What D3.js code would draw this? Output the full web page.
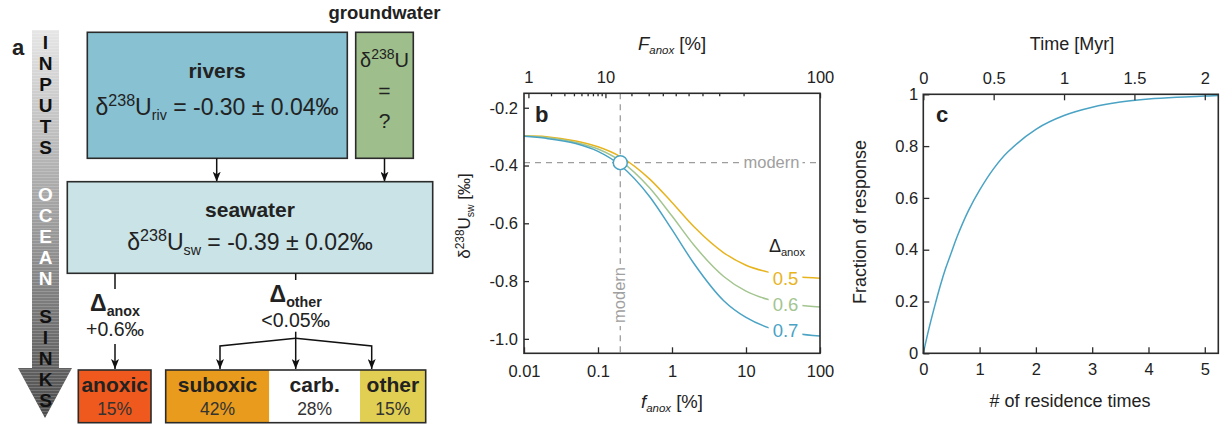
<!DOCTYPE html>
<html>
<head>
<meta charset="utf-8">
<script src="https://cdn.jsdelivr.net/npm/d3@7"></script>
<style>
  body { margin: 0; background: #fff; }
  svg { display: block; font-family: "Liberation Sans", Arial, sans-serif; }
</style>
</head>
<body>
<div id="chart"></div>
<script>
// ── panel a: budget numbers ─────────────────────────────────────
const rivD = '-0.30', rivErr = '0.04'
const swD = '-0.39', swErr = '0.02'
const dAnoxText = '+0.6‰', dOtherText = '<0.05‰'
const sinkNames = ['anoxic', 'suboxic', 'carb.', 'other']
const sinkShares = [15, 42, 28, 15]
const sinkColors = ['#f0591d', '#e89b1c', '#ffffff', '#e0cf52']

// ── panel b: seawater d238U vs anoxic area ──────────────────────
const fAnox = [0.01, 0.02, 0.05, 0.1, 0.2, 0.5, 1, 2, 5, 10, 20, 50, 100]
const deltaAnox = [0.5, 0.6, 0.7]
const swD05 = [-0.297, -0.30, -0.315, -0.335, -0.369, -0.447, -0.528, -0.613, -0.702, -0.745, -0.769, -0.785, -0.79]
const swD06 = [-0.298, -0.303, -0.32, -0.343, -0.384, -0.478, -0.575, -0.677, -0.784, -0.835, -0.864, -0.883, -0.89]
const swD07 = [-0.299, -0.306, -0.324, -0.351, -0.399, -0.508, -0.622, -0.741, -0.868, -0.926, -0.961, -0.982, -0.99]
const curveColors = ['#e7b41e', '#a3c58f', '#4aa3c4']
const modernF = 0.2, modernSw = -0.39, modernFanox = 15
const bXTicks = [0.01, 0.1, 1, 10, 100]
const bYTicks = [-1.0, -0.8, -0.6, -0.4, -0.2]
const bTopMajor = [1, 10, 100]
const bTopMinor = [2, 3, 4, 5, 6, 7, 8, 9, 20, 30, 40, 50, 60, 70, 80, 90]

// ── panel c: response vs residence times ────────────────────────
const resTimes = [0, 0.1, 0.2, 0.3, 0.4, 0.5, 0.6, 0.8, 1, 1.25, 1.5, 2, 2.5, 3, 3.5, 4, 4.5, 5, 5.24]
const response = [0, 0.095, 0.18, 0.26, 0.33, 0.39, 0.45, 0.55, 0.63, 0.713, 0.777, 0.865, 0.918, 0.95, 0.97, 0.982, 0.989, 0.993, 0.995]
const residenceMyr = 0.4
const cXTicks = [0, 1, 2, 3, 4, 5]
const cTopTicks = [0, 0.5, 1, 1.5, 2]
const cYTicks = [0, 0.2, 0.4, 0.6, 0.8, 1]

const INK = '#222'
const FRAME = '#2b2b2b'
const svg = d3.select('#chart').append('svg').attr('width', 1221).attr('height', 427)
const defs = svg.append('defs')

defs.append('marker').attr('id', 'ah')
  .attr('viewBox', '0 0 10 8').attr('refX', 10).attr('refY', 4)
  .attr('markerWidth', 10).attr('markerHeight', 8)
  .attr('markerUnits', 'userSpaceOnUse').attr('orient', 'auto')
  .append('path').attr('d', 'M0,0 L10,4 L0,8 L2.5,4 z').attr('fill', '#111')

const grad = defs.append('linearGradient').attr('id', 'flow')
  .attr('gradientUnits', 'userSpaceOnUse').attr('x1', 0).attr('y1', 30).attr('x2', 0).attr('y2', 418)
grad.append('stop').attr('offset', 0).attr('stop-color', '#e6e6e6')
grad.append('stop').attr('offset', 0.5).attr('stop-color', '#9c9c9c')
grad.append('stop').attr('offset', 1).attr('stop-color', '#4c4c4c')
const stripes = defs.append('pattern').attr('id', 'stripes')
  .attr('patternUnits', 'userSpaceOnUse').attr('width', 8).attr('height', 3)
stripes.append('rect').attr('width', 8).attr('height', 1).attr('fill', '#fff').attr('opacity', 0.18)

// text with sub/superscripts: parts = [{t, k:'sup'|'sub', i:italic, b:bold}]
function rich(g, x, y, parts, size, opts = {}) {
  const t = g.append('text').attr('x', x).attr('y', y)
    .attr('text-anchor', opts.anchor || 'middle')
    .attr('font-size', size).attr('fill', opts.fill || INK)
    .style('white-space', 'pre')
  if (opts.bold) t.attr('font-weight', 'bold')
  if (opts.transform) t.attr('transform', opts.transform)
  let shift = 0
  parts.forEach(p => {
    const part = typeof p === 'string' ? { t: p } : p
    const target = part.k === 'sup' ? -0.38 * size : part.k === 'sub' ? 0.22 * size : 0
    const ts = t.append('tspan').text(part.t).attr('dy', target - shift)
    if (part.k) ts.attr('font-size', size * (part.k === 'sup' ? 0.7 : 0.62))
    if (part.i) ts.attr('font-style', 'italic')
    if (part.b) ts.attr('font-weight', 'bold')
    shift = target
  })
  return t
}

function plainText(g, x, y, s, size, opts = {}) {
  return rich(g, x, y, [s], size, opts)
}

function whiteBehind(g, textSel, pad) {
  const bb = textSel.node().getBBox()
  g.insert('rect', () => textSel.node())
    .attr('x', bb.x - pad).attr('y', bb.y)
    .attr('width', bb.width + 2 * pad).attr('height', bb.height)
    .attr('fill', '#fff')
}

// ════════════════ panel a ════════════════
const ga = svg.append('g')
plainText(ga, 12, 55, 'a', 22, { anchor: 'start', bold: true })

// flow arrow
const arrowPath = 'M32,30 L59,30 L59,368 L72,368 L45,418 L18,368 L32,368 Z'
ga.append('path').attr('d', arrowPath).attr('fill', 'url(#flow)')
ga.append('path').attr('d', arrowPath).attr('fill', 'url(#stripes)')
const flowWords = [
  { w: 'INPUTS', top: 32.2, fill: '#111' },
  { w: 'OCEAN', top: 183.5, fill: '#fff' },
  { w: 'SINKS', top: 305.5, fill: '#111' },
]
flowWords.forEach(fw => {
  ga.append('text').attr('x', 45.5).attr('y', fw.top)
    .style('writing-mode', 'vertical-rl').style('text-orientation', 'upright')
    .attr('font-size', 19).attr('font-weight', 'bold').attr('fill', fw.fill)
    .text(fw.w)
})

const box = (x0, y0, x1, y1, fill) => ga.append('rect')
  .attr('x', x0).attr('y', y0).attr('width', x1 - x0).attr('height', y1 - y0)
  .attr('fill', fill).attr('stroke', FRAME).attr('stroke-width', 1.6)

// inputs
box(87.3, 32.3, 347.3, 158.3, '#87c1d2')
plainText(ga, 217, 78, 'rivers', 21, { bold: true })
rich(ga, 217, 115, ['δ', { t: '238', k: 'sup' }, 'U', { t: 'riv', k: 'sub' }, ` = ${rivD} ± ${rivErr}‰`], 23)

box(355.7, 32.3, 413.3, 158.3, '#9ebe8b')
plainText(ga, 384.5, 19, 'groundwater', 18.5, { bold: true })
rich(ga, 384.5, 67, ['δ', { t: '238', k: 'sup' }, 'U'], 20)
plainText(ga, 384.5, 98, '=', 21)
plainText(ga, 384.5, 128, '?', 21)

const arrow = (pts) => ga.append('path')
  .attr('d', d3.line()(pts)).attr('fill', 'none')
  .attr('stroke', '#111').attr('stroke-width', 1.5)
  .attr('marker-end', 'url(#ah)')
const stem = (pts) => ga.append('path')
  .attr('d', d3.line()(pts)).attr('fill', 'none')
  .attr('stroke', '#111').attr('stroke-width', 1.5)

arrow([[216.7, 158.3], [216.7, 181.7]])
arrow([[384.5, 158.3], [384.5, 181.7]])

// seawater
box(67.3, 181.7, 432.7, 273.3, '#c9e3e6')
plainText(ga, 250, 217, 'seawater', 21, { bold: true })
rich(ga, 250, 250, ['δ', { t: '238', k: 'sup' }, 'U', { t: 'sw', k: 'sub' }, ` = ${swD} ± ${swErr}‰`], 23)

// fractionation
stem([[115, 273.3], [115, 289]])
rich(ga, 115, 311, [{ t: 'Δ', b: true }, { t: 'anox', k: 'sub', b: true }], 23)
plainText(ga, 115, 336, dAnoxText, 19.5)
arrow([[115, 344], [115, 369]])

stem([[295.7, 273.3], [295.7, 280]])
rich(ga, 295.7, 302, [{ t: 'Δ', b: true }, { t: 'other', k: 'sub', b: true }], 23)
plainText(ga, 295.7, 327, dOtherText, 19.5)
arrow([[295.7, 331.7], [295.7, 369]])
arrow([[295.7, 338.3], [220, 346], [220, 369]])
arrow([[295.7, 338.3], [371.7, 346], [371.7, 369]])

// sinks
const sinkX = [[78.3, 151], [165.7, 269.3], [269.3, 360], [360, 425.7]]
sinkNames.forEach((name, i) => {
  const [x0, x1] = sinkX[i]
  ga.append('rect').attr('x', x0).attr('y', 370).attr('width', x1 - x0).attr('height', 52.7)
    .attr('fill', sinkColors[i]).attr('stroke', i === 0 ? FRAME : 'none').attr('stroke-width', 1.6)
  plainText(ga, (x0 + x1) / 2, 392, name, 21, { bold: true })
  plainText(ga, (x0 + x1) / 2, 415, `${sinkShares[i]}%`, 17.5, { fill: '#333' })
})
ga.append('rect').attr('x', 165.7).attr('y', 370).attr('width', 260).attr('height', 52.7)
  .attr('fill', 'none').attr('stroke', FRAME).attr('stroke-width', 1.6)

// ════════════════ panel b ════════════════
const gb = svg.append('g')
const bx = d3.scaleLog().domain([0.01, 100]).range([524, 820])
const by = d3.scaleLinear().domain([-1.05, -0.15]).range([353.3, 93.3])

// F_anox (burial flux share) from f_anox (area), scaled on the modern point
const kAnox = (modernFanox / (100 - modernFanox)) / (modernF / (100 - modernF))
const fFromF = F => {
  if (F >= 100) return 100
  const r = F / (100 - F) / kAnox
  return 100 * r / (1 + r)
}

function styleAxis(sel, size) {
  sel.attr('font-family', null).attr('font-size', size).attr('color', FRAME)
  sel.select('.domain').remove()
  sel.selectAll('.tick line').attr('stroke-width', 1.3)
  sel.selectAll('.tick text').attr('fill', INK)
}

// dashed modern lines
const dash = { stroke: '#9d9d9d', 'stroke-width': 1.3, 'stroke-dasharray': '6,5' }
const hLine = gb.append('line').attr('x1', 524).attr('x2', 820)
  .attr('y1', by(modernSw)).attr('y2', by(modernSw))
const vLine = gb.append('line').attr('x1', bx(modernF)).attr('x2', bx(modernF))
  .attr('y1', 93.3).attr('y2', 353.3)
Object.entries(dash).forEach(([k, v]) => { hLine.attr(k, v); vLine.attr(k, v) })
const hLab = plainText(gb, 771.5, by(modernSw) + 5, 'modern', 16.5, { fill: '#a0a0a0' })
whiteBehind(gb, hLab, 3)
const gv = gb.append('g').attr('transform', `translate(${bx(modernF) + 5},295) rotate(-90)`)
const vLab = plainText(gv, 0, 0, 'modern', 16.5, { fill: '#a0a0a0' })
whiteBehind(gv, vLab, 3)

// curves
const bSeries = [swD05, swD06, swD07]
const bLine = d3.line().x(d => bx(d[0])).y(d => by(d[1])).curve(d3.curveMonotoneX)
bSeries.forEach((vals, i) => {
  gb.append('path').datum(fAnox.map((f, j) => [f, vals[j]]))
    .attr('d', bLine).attr('fill', 'none')
    .attr('stroke', curveColors[i]).attr('stroke-width', 1.5)
})
// inline labels
bSeries.forEach((vals, i) => {
  const t = plainText(gb, 785.5, by(vals[fAnox.length - 1]) + 8 - [1, 4, 7][i], deltaAnox[i].toFixed(1), 18.5, { fill: curveColors[i] })
  whiteBehind(gb, t, 4)
})
rich(gb, 787, 252, ['Δ', { t: 'anox', k: 'sub' }], 18)

gb.append('circle').attr('cx', bx(modernF)).attr('cy', by(modernSw)).attr('r', 7)
  .attr('fill', '#fff').attr('stroke', curveColors[2]).attr('stroke-width', 1.5)

gb.append('g').attr('transform', 'translate(0,353.3)')
  .call(d3.axisBottom(bx).tickValues(bXTicks).tickFormat(d => String(d))
    .tickSizeInner(-6).tickSizeOuter(0).tickPadding(12))
  .call(s => styleAxis(s, 16.5))
gb.append('g').attr('transform', 'translate(524,0)')
  .call(d3.axisLeft(by).tickValues(bYTicks).tickFormat(d => d.toFixed(1))
    .tickSizeInner(-5).tickSizeOuter(0).tickPadding(6))
  .call(s => styleAxis(s, 16.5))
gb.append('g').attr('transform', 'translate(0,93.3)')
  .call(d3.axisTop(bx).tickValues(bTopMajor.map(fFromF)).tickFormat((d, i) => bTopMajor[i])
    .tickSizeInner(-5).tickSizeOuter(0).tickPadding(10))
  .call(s => styleAxis(s, 16.5))
gb.append('g').attr('transform', 'translate(0,93.3)')
  .call(d3.axisTop(bx).tickValues(bTopMinor.map(fFromF)).tickFormat('')
    .tickSizeInner(-3).tickSizeOuter(0))
  .call(s => styleAxis(s, 16.5))

gb.append('rect').attr('x', 524).attr('y', 93.3).attr('width', 296).attr('height', 260)
  .attr('fill', 'none').attr('stroke', FRAME).attr('stroke-width', 1.6)

plainText(gb, 535, 122, 'b', 22, { anchor: 'start', bold: true })
rich(gb, 672, 50, [{ t: 'F', i: true }, { t: 'anox', k: 'sub', i: true }, ' [%]'], 18.5)
rich(gb, 672, 408, [{ t: 'f', i: true }, { t: 'anox', k: 'sub', i: true }, ' [%]'], 18.5)
rich(gb, 0, 0, ['δ', { t: '238', k: 'sup' }, 'U', { t: 'sw', k: 'sub' }, ' [‰]'], 17,
  { transform: 'translate(470,216) rotate(-90)' })

// ════════════════ panel c ════════════════
const gc = svg.append('g')
const cx = d3.scaleLinear().domain([0, 5.24]).range([923.3, 1218.3])
const cy = d3.scaleLinear().domain([0, 1]).range([353.3, 94.3])
const cTop = d3.scaleLinear().domain([0, 5.24 * residenceMyr]).range(cx.range())

gc.append('path').datum(resTimes.map((t, i) => [t, response[i]]))
  .attr('d', d3.line().x(d => cx(d[0])).y(d => cy(d[1])).curve(d3.curveCatmullRom))
  .attr('fill', 'none').attr('stroke', curveColors[2]).attr('stroke-width', 1.5)

gc.append('g').attr('transform', 'translate(0,353.3)')
  .call(d3.axisBottom(cx).tickValues(cXTicks).tickFormat(d => String(d))
    .tickSizeInner(-6).tickSizeOuter(0).tickPadding(10))
  .call(s => styleAxis(s, 16.5))
gc.append('g').attr('transform', 'translate(923.3,0)')
  .call(d3.axisLeft(cy).tickValues(cYTicks).tickFormat(d => String(d))
    .tickSizeInner(-6).tickSizeOuter(0).tickPadding(5))
  .call(s => styleAxis(s, 16.5))
gc.append('g').attr('transform', 'translate(0,94.3)')
  .call(d3.axisTop(cTop).tickValues(cTopTicks).tickFormat(d => String(d))
    .tickSizeInner(-6).tickSizeOuter(0).tickPadding(10))
  .call(s => styleAxis(s, 16.5))

gc.append('rect').attr('x', 923.3).attr('y', 94.3).attr('width', 295).attr('height', 259)
  .attr('fill', 'none').attr('stroke', FRAME).attr('stroke-width', 1.6)

plainText(gc, 936, 122, 'c', 22, { anchor: 'start', bold: true })
plainText(gc, 1072, 50, 'Time [Myr]', 18)
plainText(gc, 1070, 407, '# of residence times', 18)
plainText(gc, 0, 0, 'Fraction of response', 18, { transform: 'translate(866,222) rotate(-90)' })
</script>
</body>
</html>
